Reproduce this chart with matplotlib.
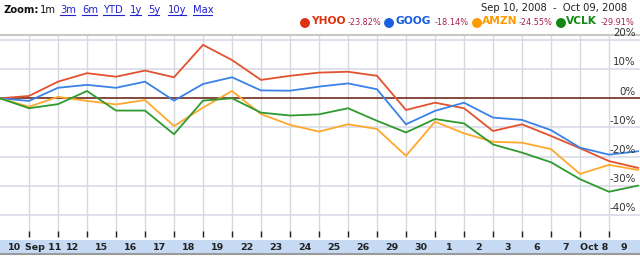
import matplotlib
matplotlib.use("Agg")
import matplotlib.pyplot as plt
import numpy as np

# ---- data (percent change since start) ----
day_labels = ["10", "Sep 11", "12", "15", "16", "17", "18", "19", "22", "23", "24",
              "25", "26", "29", "30", "1", "2", "3", "6", "7", "Oct 8", "9"]
yhoo = [0, 0.8, 5.7, 8.6, 7.4, 9.5, 7.2, 18.3, 13.1, 6.3, 7.7, 8.8, 9.1, 7.7,
        -4.0, -1.5, -3.4, -11.2, -8.9, -12.9, -17.1, -21.5, -23.82]
goog = [0, -0.9, 3.6, 4.6, 3.6, 5.7, -0.8, 4.9, 7.2, 2.7, 2.6, 4.0, 5.1, 3.1,
        -8.9, -4.3, -1.5, -6.6, -7.4, -10.9, -16.9, -19.3, -18.14]
amzn = [0, -2.9, 0.5, -0.9, -2.1, -0.6, -9.5, -3.2, 2.5, -5.4, -9.1, -11.4, -8.9, -10.5,
        -19.7, -8.0, -12.0, -14.9, -15.2, -17.4, -25.9, -22.8, -24.55]
vclk = [0, -3.4, -2.0, 2.5, -4.2, -4.2, -12.3, -0.8, 0.0, -4.9, -5.9, -5.5, -3.4, -7.7,
        -11.7, -7.1, -8.6, -15.8, -18.6, -21.9, -27.7, -32.0, -29.91]
tickers = ["YHOO", "GOOG", "AMZN", "VCLK"]
final_pct = ["-23.82%", "-18.14%", "-24.55%", "-29.91%"]
y_ticks = [20, 10, 0, -10, -20, -30, -40]
zoom_links = ["3m", "6m", "YTD", "1y", "5y", "10y", "Max"]

line_colors = ["#e2522f", "#3a82e6", "#ffa82e", "#2f9a2f"]
text_colors = ["#dd3311", "#1a5fdd", "#ff9900", "#118811"]

W, H = 640, 256
fig = plt.figure(figsize=(6.4, 2.56), dpi=100)
plt.rcParams['font.family'] = ['DejaVu Sans']

def fx(px):
    return px / W

def fy(py):
    return 1 - py / H

# main axes: pixel y 35..237, x 0..640
top_px, bot_px = 35, 237
ax = fig.add_axes([0, fy(bot_px), 1, (bot_px - top_px) / H])
n = len(yhoo)
x = np.arange(n)
xmax = (n - 1) * 640 / 638
ax.set_xlim(0, xmax)
zero_px, per10 = 98.3, 29.2
ytop = (zero_px - top_px) / per10 * 10
ybot = (zero_px - bot_px) / per10 * 10
ax.set_ylim(ybot, ytop)

for s in ax.spines.values():
    s.set_visible(False)
ax.axhline(ytop, color="#c8c8c8", lw=1.5, clip_on=False)

for v in y_ticks:
    if v != 0:
        ax.axhline(v, color="#dcdde9", lw=1.3, zorder=1)
for k in range(1, n - 1):
    ax.axvline(k, color="#d6dadd", lw=1.0, zorder=1)
ax.axhline(0, color="#7a3a2c", lw=1.3, zorder=2)

for series, c in zip([yhoo, goog, amzn, vclk], line_colors):
    ax.plot(x, series, color=c, lw=1.3, zorder=3, solid_joinstyle="miter")

ax.set_xticks(range(1, n - 1))
ax.tick_params(axis="x", direction="in", length=4, width=1, color="#222222",
               labelbottom=False, bottom=True, pad=0)
ax.set_yticks([])

trans = matplotlib.transforms.blended_transform_factory(ax.transAxes, ax.transData)
for v in y_ticks:
    ax.text(0.993, v + 0.6, f"{v}%", transform=trans, ha="right", va="bottom",
            fontsize=7.4, color="#333333", zorder=5)

# date band
band = fig.add_axes([0, fy(253), 1, 13 / H])
band.set_facecolor("#c6daf4")
band.set_xlim(0, xmax)
band.set_ylim(0, 1)
for s in band.spines.values():
    s.set_visible(False)
band.set_xticks([]); band.set_yticks([])
for i, lab in enumerate(day_labels):
    band.text(i + 0.5, 0.45, lab, ha="center", va="center", fontsize=6.8,
              color="#222222", fontweight="bold")
fig.add_artist(plt.Line2D([0, 1], [fy(254), fy(254)], color="#9a9a9a", lw=1.5))

# header: zoom links
fig.text(fx(4), fy(10), "Zoom:", fontsize=7.2, fontweight="bold", va="center", color="#111111")
fig.text(fx(40), fy(10), "1m", fontsize=7.2, va="center", color="#111111")
link_x = [60, 82, 103, 130, 148, 168, 193]
link_w = [15, 15, 21, 11, 11, 18, 19]
for lx, lw_, lab in zip(link_x, link_w, zoom_links):
    fig.text(fx(lx), fy(10), lab, fontsize=7.2, va="center", color="#2222cc")
    fig.add_artist(plt.Line2D([fx(lx), fx(lx + lw_)], [fy(14.5), fy(14.5)],
                              color="#2222cc", lw=0.8))

fig.text(fx(627), fy(8), "Sep 10, 2008  -  Oct 09, 2008", fontsize=7.2, ha="right",
         va="center", color="#222222")

# legend row
dot_x = [305, 389, 477, 561]
name_x = [311, 395, 482, 566]
pct_x = [348, 435, 519, 601]
for i in range(4):
    fig.add_artist(matplotlib.patches.Ellipse((fx(dot_x[i]), fy(23)), 8.5 / W, 8.5 / H,
                                              color=text_colors[i]))
    fig.text(fx(name_x[i]), fy(21.5), tickers[i], fontsize=7.7, fontweight="bold",
             va="center", color=text_colors[i])
    fig.text(fx(pct_x[i]), fy(22.5), final_pct[i], fontsize=5.9, va="center",
             color="#a8204c")

fig.savefig("out.png", dpi=100)
